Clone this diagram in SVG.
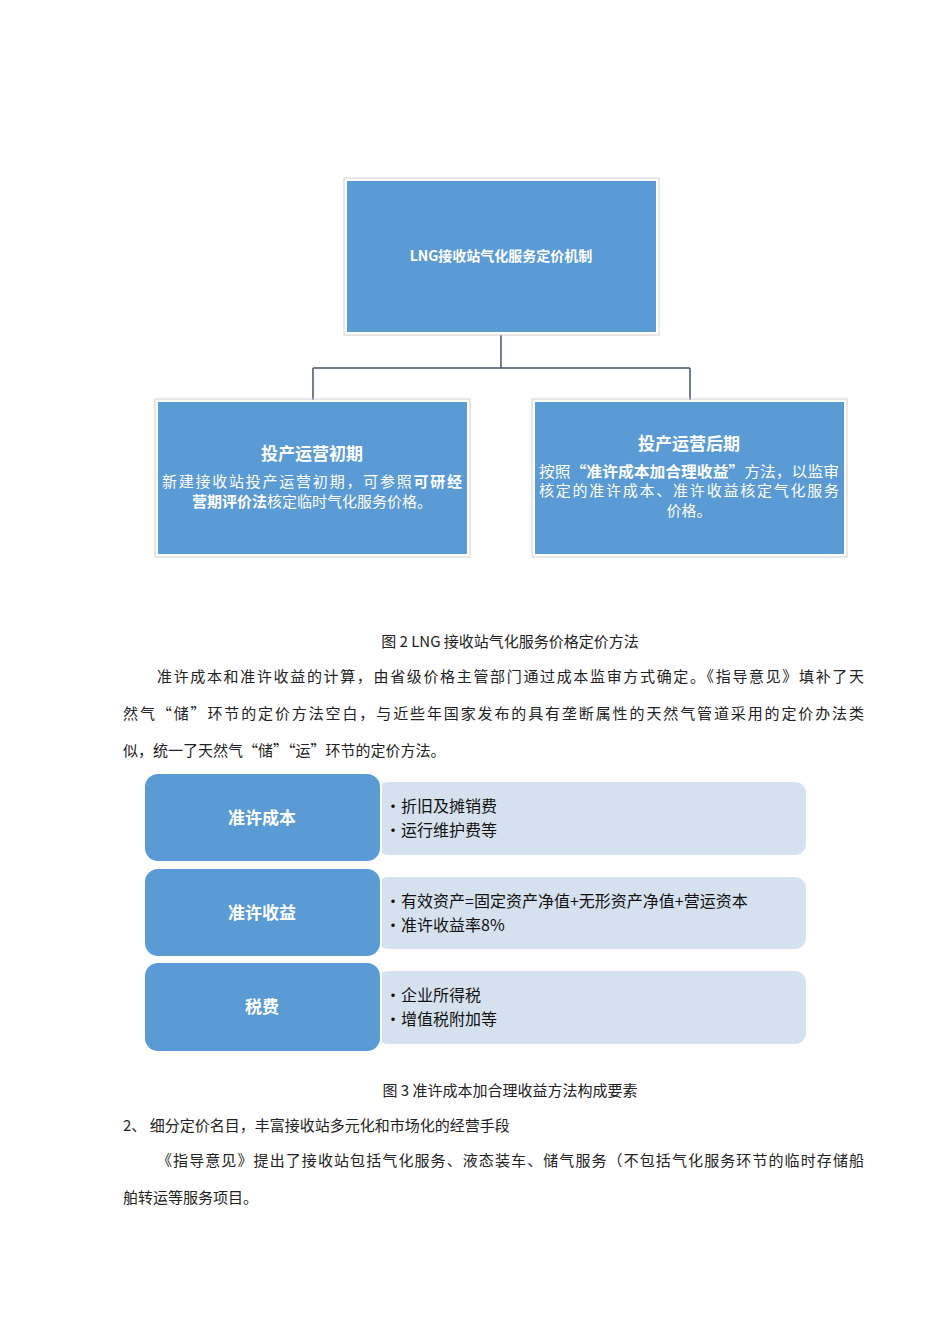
<svg xmlns="http://www.w3.org/2000/svg" width="950" height="1344" viewBox="0 0 950 1344">
<style>
.bx{fill:#5b9bd5;stroke:#fff;stroke-width:2}
.ol{fill:none;stroke:#d0d0d0;stroke-width:1}
.lt{fill:#d6e1ef;stroke:#fff;stroke-width:2}
.w{fill:#fff;font-family:"Noto Sans CJK SC",sans-serif}
.k{fill:#111;font-family:"Noto Sans CJK SC",sans-serif;font-size:16px}
.p{fill:#222;font-family:"Noto Sans CJK SC",sans-serif;font-size:15px}
.c{stroke:#44546a;stroke-width:1.5;fill:none}
</style>
<rect width="950" height="1344" fill="#fff"/>
<g id="connectors">
<path class="c" d="M501 335V368M313 368H690M313 368V400M690 368V400"/>
</g>
<g id="top">
<rect class="ol" x="344" y="178" width="315" height="157"/>
<rect class="bx" x="346" y="180" width="311" height="153"/>
<text class="w" x="501" y="261" font-size="14" font-weight="bold" text-anchor="middle">LNG接收站气化服务定价机制</text>
</g>
<g id="left">
<rect class="ol" x="155" y="399" width="315" height="158"/>
<rect class="bx" x="157" y="401" width="311" height="154"/>
<text class="w" x="312" y="460" font-size="17" font-weight="bold" text-anchor="middle">投产运营初期</text>
<text class="w" x="312" y="487" font-size="15" text-anchor="middle" textLength="300" lengthAdjust="spacing">新建接收站投产运营初期，可参照<tspan font-weight="bold">可研经</tspan></text>
<text class="w" x="312" y="507" font-size="15" text-anchor="middle"><tspan font-weight="bold">营期评价法</tspan>核定临时气化服务价格。</text>
</g>
<g id="right">
<rect class="ol" x="532" y="399" width="315" height="158"/>
<rect class="bx" x="534" y="401" width="311" height="154"/>
<text class="w" x="689" y="450" font-size="17" font-weight="bold" text-anchor="middle">投产运营后期</text>
<text class="w" x="689" y="477" font-size="15" text-anchor="middle" textLength="300" lengthAdjust="spacingAndGlyphs">按照<tspan font-weight="bold">“准许成本加合理收益”</tspan>方法，以监审</text>
<text class="w" x="689" y="496" font-size="15" text-anchor="middle" textLength="300" lengthAdjust="spacing">核定的准许成本、准许收益核定气化服务</text>
<text class="w" x="689" y="516" font-size="15" text-anchor="middle">价格。</text>
</g>
<text class="p" x="510" y="647" text-anchor="middle">图 2 LNG 接收站气化服务价格定价方法</text>
<text class="p" x="157" y="682" textLength="707" lengthAdjust="spacing">准许成本和准许收益的计算，由省级价格主管部门通过成本监审方式确定。《指导意见》填补了天</text>
<text class="p" x="123" y="719" textLength="741" lengthAdjust="spacing">然气“储”环节的定价方法空白，与近些年国家发布的具有垄断属性的天然气管道采用的定价办法类</text>
<text class="p" x="123" y="756">似，统一了天然气“储”“运”环节的定价方法。</text>
<g id="r1">
<rect class="lt" x="376" y="781" width="431" height="75" rx="12"/>
<rect class="bx" x="144" y="773" width="237" height="89" rx="14"/>
<text class="w" x="262" y="824" font-size="17" font-weight="bold" text-anchor="middle">准许成本</text>
<text class="k" x="385" y="812">•折旧及摊销费</text>
<text class="k" x="385" y="836">•运行维护费等</text>
</g>
<g id="r2">
<rect class="lt" x="376" y="876" width="431" height="74" rx="12"/>
<rect class="bx" x="144" y="868" width="237" height="89" rx="14"/>
<text class="w" x="262" y="919" font-size="17" font-weight="bold" text-anchor="middle">准许收益</text>
<text class="k" x="385" y="907">•有效资产=固定资产净值+无形资产净值+营运资本</text>
<text class="k" x="385" y="931">•准许收益率8%</text>
</g>
<g id="r3">
<rect class="lt" x="376" y="970" width="431" height="75" rx="12"/>
<rect class="bx" x="144" y="962" width="237" height="90" rx="14"/>
<text class="w" x="262" y="1013" font-size="17" font-weight="bold" text-anchor="middle">税费</text>
<text class="k" x="385" y="1001">•企业所得税</text>
<text class="k" x="385" y="1025">•增值税附加等</text>
</g>
<text class="p" x="510" y="1096" text-anchor="middle">图 3 准许成本加合理收益方法构成要素</text>
<text class="p" x="123" y="1131">2、 细分定价名目，丰富接收站多元化和市场化的经营手段</text>
<text class="p" x="157" y="1166" textLength="707" lengthAdjust="spacing">《指导意见》提出了接收站包括气化服务、液态装车、储气服务（不包括气化服务环节的临时存储船</text>
<text class="p" x="123" y="1203">舶转运等服务项目。</text>
</svg>
